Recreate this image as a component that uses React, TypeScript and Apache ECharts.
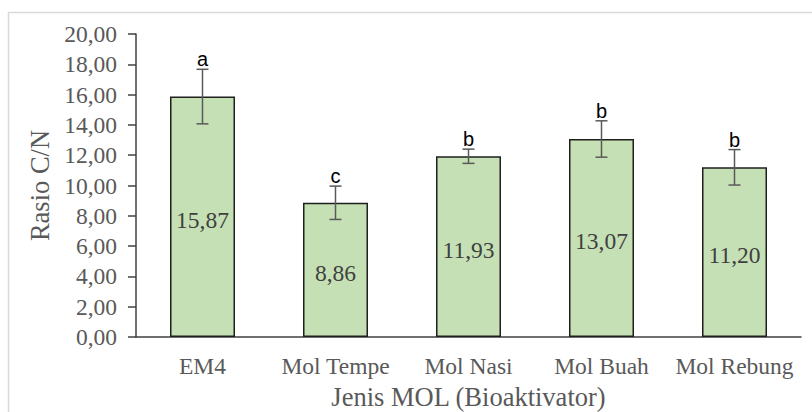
import React, { useEffect, useRef } from 'react';
import * as echarts from 'echarts';

const categories = ['EM4', 'Mol Tempe', 'Mol Nasi', 'Mol Buah', 'Mol Rebung'];
const ratioValues = [15.87, 8.86, 11.93, 13.07, 11.2];
const errorValues = [1.8, 1.1, 0.47, 1.2, 1.17];
const letters = ['a', 'c', 'b', 'b', 'b'];

const SERIF = 'Liberation Serif';
const SANS = 'Liberation Sans';
const fmt = (v: number) => v.toFixed(2).replace('.', ',');

export default function App() {
  const ref = useRef<HTMLDivElement>(null);
  useEffect(() => {
    if (!ref.current) return;
    const chart = echarts.init(ref.current, undefined, { renderer: 'svg' });
    const errData = ratioValues.map((v, i) => [i, v - errorValues[i], v + errorValues[i]]);
    chart.setOption({
      animation: false,
      backgroundColor: '#ffffff',
      textStyle: { fontFamily: SERIF },
      graphic: [
        {
          type: 'rect',
          shape: { x: 8.5, y: 12.5, width: 900, height: 500 },
          style: { fill: 'none', stroke: '#d9d9d9', lineWidth: 1.5 },
          silent: true,
        },
      ],
      grid: { left: 136, right: 11, top: 34, bottom: 75, containLabel: false, outerBoundsMode: 'none' },
      xAxis: {
        type: 'category',
        data: categories,
        name: 'Jenis MOL (Bioaktivator)',
        nameLocation: 'middle',
        nameGap: 46,
        nameTextStyle: { fontFamily: SERIF, fontSize: 26.5, color: '#595959' },
        axisLine: { show: true, lineStyle: { color: '#404040', width: 1.5 } },
        axisTick: { show: false },
        axisLabel: { interval: 0, fontFamily: SERIF, fontSize: 23.5, color: '#595959', margin: 17 },
        splitLine: { show: false },
      },
      yAxis: {
        type: 'value',
        min: 0,
        max: 20,
        interval: 2,
        name: 'Rasio C/N',
        nameLocation: 'middle',
        nameGap: 77,
        nameTextStyle: { fontFamily: SERIF, fontSize: 26.5, color: '#595959' },
        axisLine: { show: true, lineStyle: { color: '#404040', width: 1.5 } },
        axisTick: { show: true, length: 8, lineStyle: { color: '#404040', width: 1.5 } },
        axisLabel: { fontFamily: SERIF, fontSize: 23.5, color: '#595959', margin: 19, formatter: (v: number) => fmt(v) },
        splitLine: { show: false },
      },
      series: [
        {
          type: 'bar',
          data: ratioValues,
          barWidth: 65,
          itemStyle: { color: '#c5e0b4', borderColor: '#1f1f1f', borderWidth: 1.5 },
          label: {
            show: true,
            position: 'inside',
            offset: [0, 3],
            fontFamily: SERIF,
            fontSize: 23.5,
            color: '#404040',
            formatter: (p: any) => fmt(p.value),
          },
        },
        {
          type: 'custom',
          data: errData,
          z: 10,
          renderItem: (params: any, api: any) => {
            const x = api.value(0);
            const low = api.coord([x, api.value(1)]);
            const high = api.coord([x, api.value(2)]);
            const cap = 6;
            const style = { stroke: '#595959', lineWidth: 1.5 };
            const letter = letters[params.dataIndex];
            return {
              type: 'group',
              children: [
                { type: 'line', shape: { x1: high[0], y1: high[1], x2: low[0], y2: low[1] }, style },
                { type: 'line', shape: { x1: high[0] - cap, y1: high[1], x2: high[0] + cap, y2: high[1] }, style },
                { type: 'line', shape: { x1: low[0] - cap, y1: low[1], x2: low[0] + cap, y2: low[1] }, style },
                {
                  type: 'text',
                  x: high[0],
                  y: high[1],
                  style: {
                    text: letter,
                    fontFamily: SANS,
                    fontSize: 20,
                    fill: '#000000',
                    align: 'center',
                    verticalAlign: 'bottom',
                  },
                },
              ],
            };
          },
        },
      ],
    });
    return () => chart.dispose();
  }, []);
  return <div ref={ref} style={{ position: 'absolute', left: 0, top: 0, width: 812, height: 412 }} />;
}
